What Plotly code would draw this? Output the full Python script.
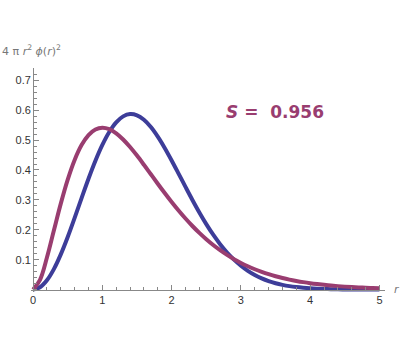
import plotly.graph_objects as go

# radial grid, step 0.1 from 0 to 5
r = [round(0.1 * i, 1) for i in range(51)]

# 1s (Slater) radial density, 4 pi r^2 phi(r)^2
slater = [0.0, 0.03275, 0.10725, 0.19757, 0.28757, 0.36788, 0.43372, 0.48333, 0.51686, 0.53557,
          0.54134, 0.53629, 0.52253, 0.50209, 0.47674, 0.44808, 0.41740, 0.38578, 0.35409, 0.32300,
          0.29305, 0.26453, 0.23769, 0.21270, 0.18961, 0.16845, 0.14917, 0.13170, 0.11597, 0.10185,
          0.08924, 0.07801, 0.06806, 0.05926, 0.05150, 0.04468, 0.03870, 0.03347, 0.02891, 0.02493,
          0.02147, 0.01847, 0.01587, 0.01362, 0.01167, 0.01000, 0.00855, 0.00731, 0.00624, 0.00533,
          0.00454]

# Gaussian radial density
gauss = [0.0, 0.007939, 0.031283, 0.068650, 0.117846, 0.176033, 0.239920, 0.306006, 0.370804, 0.431058,
         0.483940, 0.527195, 0.559250, 0.579226, 0.586926, 0.582822, 0.567917, 0.543610, 0.511598, 0.473731,
         0.431924, 0.387935, 0.343393, 0.299744, 0.257985, 0.219103, 0.183639, 0.151940, 0.124113, 0.100123,
         0.079773, 0.062790, 0.048826, 0.037519, 0.028491, 0.021380, 0.015860, 0.011631, 0.008431, 0.006045,
         0.004283, 0.003000, 0.002079, 0.001425, 0.000966, 0.000647, 0.000429, 0.000281, 0.000183, 0.000117,
         0.0000743]

overlap_label = "0.956"

x_ticks = [0, 1, 2, 3, 4, 5]
y_ticks = [0.1, 0.2, 0.3, 0.4, 0.5, 0.6, 0.7]

BLUE = "#3D3D99"
PURPLE = "#993D70"
AXIS = "#888888"
LABEL = "#777777"
TICKFONT = dict(family="Liberation Sans", size=11, color="#333333")

x_range = [-0.03, 5.08]
y_range = [-0.008, 0.741]

# plot area in pixels: left 31, right 385, top 68, bottom 292
L, R, T, B = 31, 15, 68, 58
PW, PH = 400 - L - R, 350 - T - B

fig = go.Figure()
fig.add_trace(go.Scatter(x=r, y=gauss, mode="lines",
                         line=dict(color=BLUE, width=4, shape="spline"), hoverinfo="skip"))
fig.add_trace(go.Scatter(x=r, y=slater, mode="lines",
                         line=dict(color=PURPLE, width=4, shape="spline"), hoverinfo="skip"))

fig.add_annotation(x=3.49, y=0.594, xref="x", yref="y", showarrow=False,
                   text="<b><i>S</i> =  " + overlap_label + "</b>",
                   font=dict(family="DejaVu Sans", size=17, color=PURPLE))

# axis labels at the axis ends
fig.add_annotation(xref="paper", yref="paper", x=-L / PW, y=(350 - 50 - B) / PH,
                   xanchor="left", yanchor="middle", showarrow=False,
                   text="4 π <i>r</i><sup>2</sup> <i>ϕ</i>(<i>r</i>)<sup>2</sup>",
                   font=dict(family="DejaVu Sans", size=11, color=LABEL))
fig.add_annotation(xref="paper", yref="y", x=(392 - L) / PW, y=0.0,
                   xanchor="left", yanchor="middle", showarrow=False,
                   text="<i>r</i>", font=dict(family="DejaVu Sans", size=11, color=LABEL))

fig.update_layout(
    width=400, height=350,
    margin=dict(l=L, r=R, t=T, b=B),
    paper_bgcolor="white", plot_bgcolor="white",
    showlegend=False,
    xaxis=dict(range=x_range, anchor="free",
               position=(0 - y_range[0]) / (y_range[1] - y_range[0]),
               showgrid=False, zeroline=False, showline=True, linecolor=AXIS, linewidth=1,
               tickmode="array", tickvals=x_ticks, ticks="inside", ticklen=5, tickcolor=AXIS,
               tickfont=TICKFONT,
               minor=dict(dtick=0.2, ticks="inside", ticklen=3, tickcolor=AXIS, showgrid=False)),
    yaxis=dict(range=y_range, anchor="free",
               position=(0 - x_range[0]) / (x_range[1] - x_range[0]),
               showgrid=False, zeroline=False, showline=True, linecolor=AXIS, linewidth=1,
               tickmode="array", tickvals=y_ticks, ticks="inside", ticklen=5, tickcolor=AXIS,
               tickfont=TICKFONT,
               minor=dict(dtick=0.02, ticks="inside", ticklen=3, tickcolor=AXIS, showgrid=False)),
)

fig.write_html("out.html")
